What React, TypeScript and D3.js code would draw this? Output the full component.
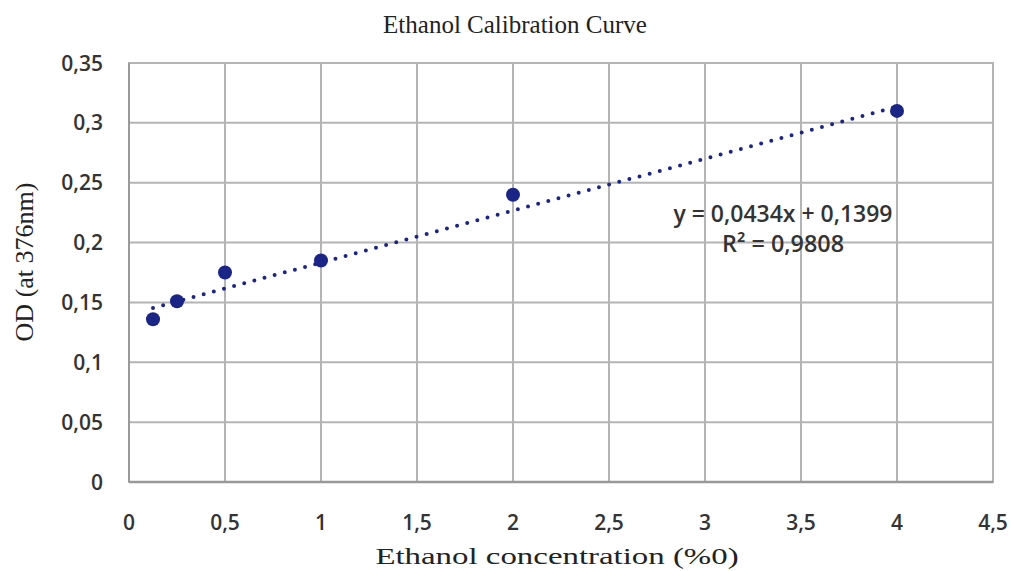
import React from "react";
import * as d3 from "d3";

const concentrations = [0.125, 0.25, 0.5, 1, 2, 4];
const odValues = [0.136, 0.151, 0.175, 0.185, 0.24, 0.31];
const xTicks = [0, 0.5, 1, 1.5, 2, 2.5, 3, 3.5, 4, 4.5];
const yTicks = [0, 0.05, 0.1, 0.15, 0.2, 0.25, 0.3, 0.35];
const slope = 0.0434;
const intercept = 0.1399;
const equationLines = ["y = 0,0434x + 0,1399", "R² = 0,9808"];

const W = 1011;
const H = 571;
const M = { left: 129, right: 18, top: 63, bottom: 89 };

const fmt = (v: number) => String(v).replace(".", ",");

export default function App() {
  const x = d3.scaleLinear().domain([0, 4.5]).range([M.left, W - M.right]);
  const y = d3.scaleLinear().domain([0, 0.35]).range([H - M.bottom, M.top]);
  const navy = "#1b2585";
  const grid = "#b4b4b4";
  const x0 = concentrations[0];
  const x1 = concentrations[concentrations.length - 1];
  const trend = d3.line<number>().x((d) => x(d)).y((d) => y(slope * d + intercept))([x0, x1]) || "";
  const tickFont = "'Open Sans', Lato, sans-serif";
  const serif = "'Liberation Serif', 'Times New Roman', serif";
  const eqWidths = [219, 122];
  return (
    <svg width={W} height={H} style={{ position: "absolute", left: 0, top: 0, background: "#fff" }}>
      <rect x={0} y={0} width={W} height={H} fill="#fff" />
      {yTicks.map((t) => (
        <line key={"gy" + t} x1={x(0)} x2={x(4.5)} y1={y(t)} y2={y(t)} stroke={grid} strokeWidth={2} />
      ))}
      {xTicks.map((t) => (
        <line key={"gx" + t} x1={x(t)} x2={x(t)} y1={y(0)} y2={y(0.35)} stroke={grid} strokeWidth={2} />
      ))}
      <rect x={x(0)} y={y(0.35)} width={x(4.5) - x(0)} height={y(0) - y(0.35)} fill="none" stroke={grid} strokeWidth={2} />
      <line x1={x(0)} x2={x(0)} y1={y(0)} y2={y(0.35)} stroke="#999" strokeWidth={2} />
      <line x1={x(0)} x2={x(4.5)} y1={y(0)} y2={y(0)} stroke="#999" strokeWidth={2.5} />
      {yTicks.map((t) => (
        <text key={"ty" + t} x={103} y={y(t)} dy="0.36em" textAnchor="end" fontFamily={tickFont} fontWeight={600} fontSize={21} fill="#333">
          {fmt(t)}
        </text>
      ))}
      {xTicks.map((t) => (
        <text key={"tx" + t} x={x(t)} y={522} dy="0.36em" textAnchor="middle" fontFamily={tickFont} fontWeight={600} fontSize={21} fill="#333">
          {fmt(t)}
        </text>
      ))}
      <path d={trend} fill="none" stroke={navy} strokeWidth={4} strokeDasharray="0 10.5" strokeLinecap="round" />
      {concentrations.map((c, i) => (
        <circle key={"p" + i} cx={x(c)} cy={y(odValues[i])} r={7} fill={navy} />
      ))}
      {equationLines.map((l, i) => (
        <text key={"eq" + i} x={783 - eqWidths[i] / 2} y={222 + i * 30} textLength={eqWidths[i]} lengthAdjust="spacingAndGlyphs" fontFamily={tickFont} fontWeight={600} fontSize={23} fill="#333">
          {l}
        </text>
      ))}
      <text x={515} y={33} textAnchor="middle" fontFamily={serif} fontSize={25} fill="#222">
        Ethanol Calibration Curve
      </text>
      <text transform="translate(557,564) scale(1.43,1)" textAnchor="middle" fontFamily={serif} fontSize={23} fill="#222">
        Ethanol concentration (%0)
      </text>
      <text transform={`translate(33,262) rotate(-90)`} textAnchor="middle" fontFamily={serif} fontSize={26} fill="#222">
        OD (at 376nm)
      </text>
    </svg>
  );
}
